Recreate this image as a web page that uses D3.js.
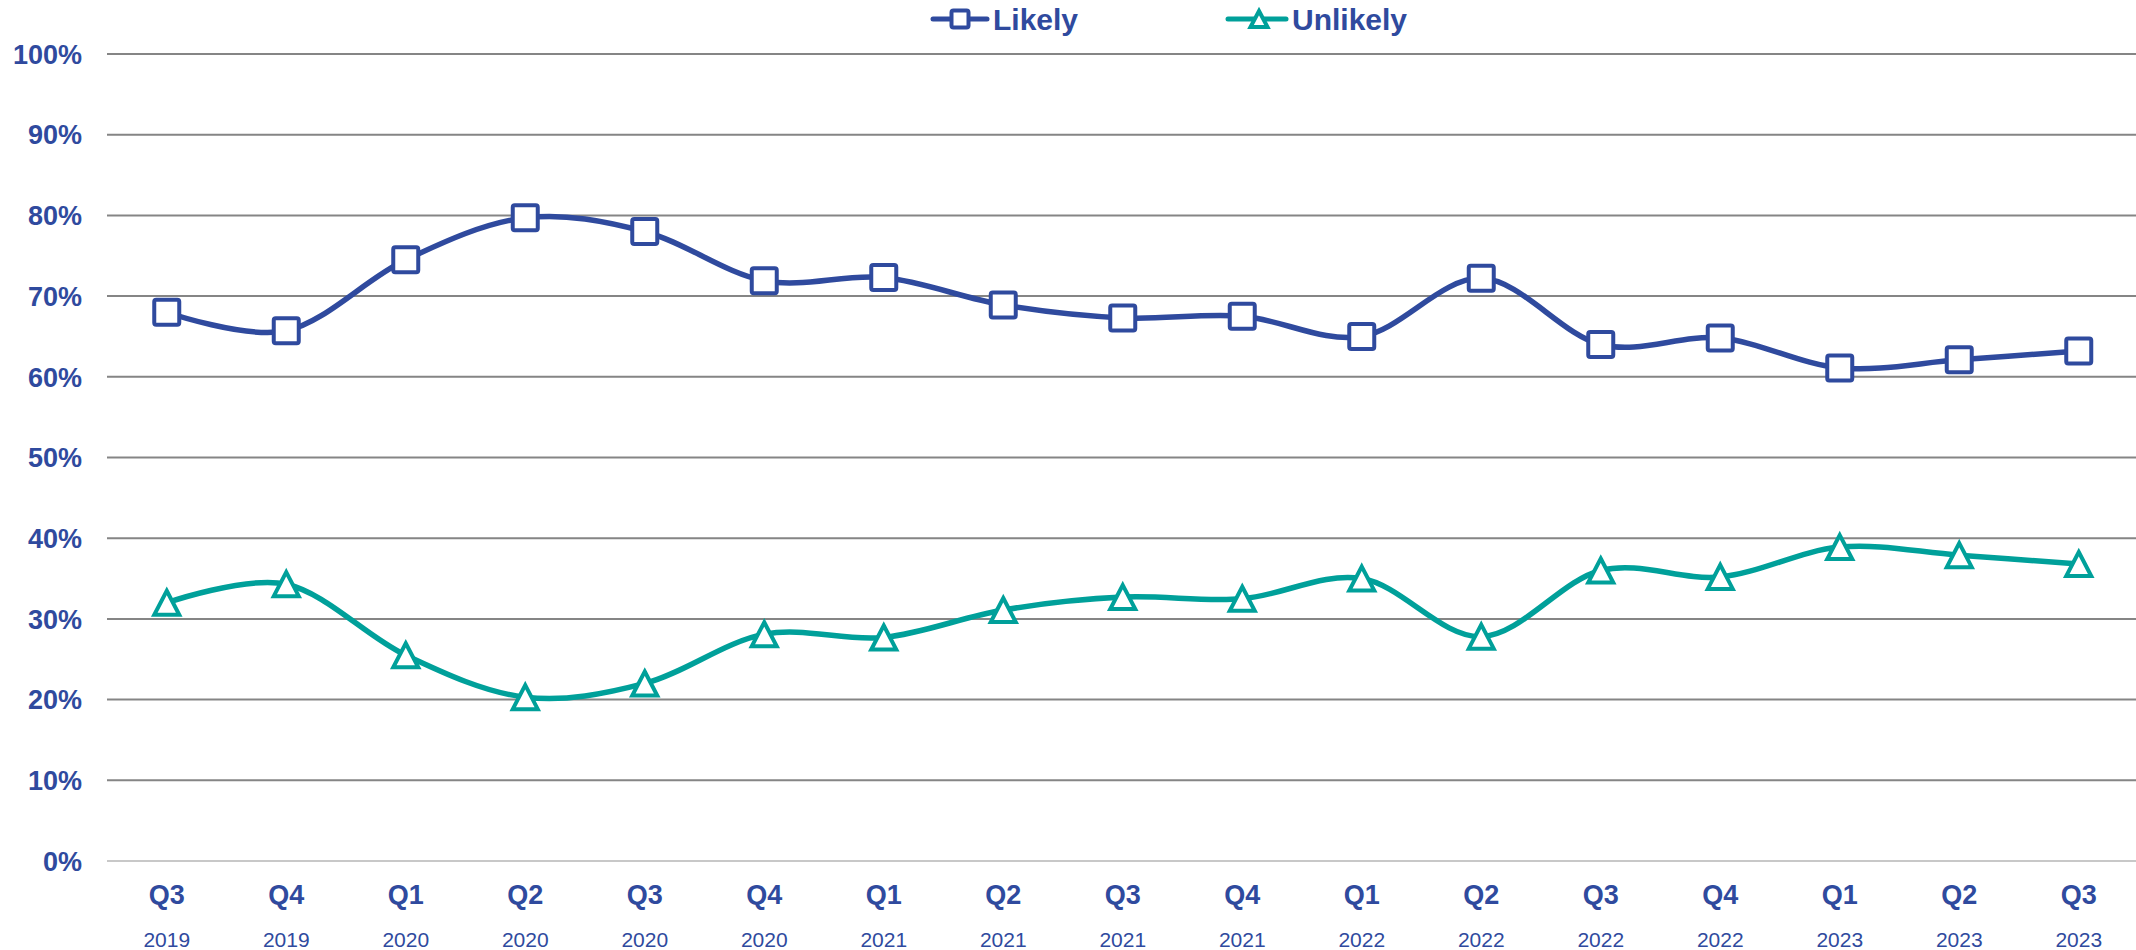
<!DOCTYPE html>
<html>
<head>
<meta charset="utf-8">
<title>Likely vs Unlikely</title>
<script src="https://d3js.org/d3.v7.min.js"></script>
<style>
  body { margin: 0; background: #fff; }
  text { font-family: Arial, "Liberation Sans", sans-serif; }
</style>
</head>
<body>
<div id="chart"></div>
<script>
// quarters and years along the x axis
const quarters = ["Q3","Q4","Q1","Q2","Q3","Q4","Q1","Q2","Q3","Q4","Q1","Q2","Q3","Q4","Q1","Q2","Q3"];
const years = ["2019","2019","2020","2020","2020","2020","2021","2021","2021","2021","2022","2022","2022","2022","2023","2023","2023"];

// shares (percent)
const likely = [68.0, 65.7, 74.5, 79.7, 78.0, 71.9, 72.3, 68.9, 67.3, 67.5, 65.0, 72.2, 64.0, 64.8, 61.1, 62.1, 63.2];
const unlikely = [32.0, 34.3, 25.5, 20.3, 22.0, 28.1, 27.7, 31.1, 32.7, 32.5, 35.0, 27.8, 36.0, 35.2, 38.9, 37.9, 36.8];

const yTicks = [0, 10, 20, 30, 40, 50, 60, 70, 80, 90, 100];

const width = 2136, height = 950;
const margin = {top: 54, right: 0, bottom: 89, left: 107};
const blue = "#2F4A9E", teal = "#00A09A";

const svg = d3.select("#chart").append("svg")
    .attr("width", width)
    .attr("height", height);

const idx = d3.range(quarters.length);

const x = d3.scaleBand()
    .domain(idx)
    .range([margin.left, margin.left + 119.5 * quarters.length])
    .padding(0);

const y = d3.scaleLinear()
    .domain([0, 100])
    .range([height - margin.bottom, margin.top]);

// gridlines
svg.append("g")
    .selectAll("line")
    .data(yTicks)
    .join("line")
    .attr("x1", margin.left)
    .attr("x2", width)
    .attr("y1", d => y(d))
    .attr("y2", d => y(d))
    .attr("stroke", d => d === 0 ? "#c8c8c8" : "#858585")
    .attr("stroke-width", 2);

// y axis labels
svg.append("g")
    .selectAll("text")
    .data(yTicks)
    .join("text")
    .attr("x", 82)
    .attr("y", d => y(d))
    .attr("dy", "0.36em")
    .attr("text-anchor", "end")
    .attr("font-size", 27)
    .attr("font-weight", "bold")
    .attr("fill", blue)
    .text(d => d + "%");

// x axis labels
const xl = svg.append("g");
xl.selectAll("text.q")
    .data(idx)
    .join("text")
    .attr("class", "q")
    .attr("x", d => x(d) + x.bandwidth() / 2)
    .attr("y", 904)
    .attr("text-anchor", "middle")
    .attr("font-size", 27)
    .attr("font-weight", "bold")
    .attr("fill", blue)
    .text(d => quarters[d]);

xl.selectAll("text.yr")
    .data(idx)
    .join("text")
    .attr("class", "yr")
    .attr("x", d => x(d) + x.bandwidth() / 2)
    .attr("y", 947)
    .attr("text-anchor", "middle")
    .attr("font-size", 21)
    .attr("fill", blue)
    .text(d => years[d]);

const line = d3.line()
    .x((d, i) => x(i) + x.bandwidth() / 2)
    .y(d => y(d))
    .curve(d3.curveCatmullRom.alpha(0));

const series = [
    {name: "Likely", values: likely, color: blue, marker: "square"},
    {name: "Unlikely", values: unlikely, color: teal, marker: "triangle"}
];

function drawMarker(g, type, color, size) {
    if (type === "square") {
        g.append("rect")
            .attr("x", -size / 2 + 2)
            .attr("y", -size / 2 + 2)
            .attr("width", size - 4)
            .attr("height", size - 4)
            .attr("rx", 2)
            .attr("fill", "#fff")
            .attr("stroke", color)
            .attr("stroke-width", 4);
    } else {
        const h = size - 5, w = size - 4;
        g.append("path")
            .attr("d", `M0,${-h / 2}L${w / 2},${h / 2}L${-w / 2},${h / 2}Z`)
            .attr("fill", "#fff")
            .attr("stroke", color)
            .attr("stroke-width", 4)
            .attr("stroke-linejoin", "miter");
    }
}

series.forEach(s => {
    svg.append("path")
        .datum(s.values)
        .attr("fill", "none")
        .attr("stroke", s.color)
        .attr("stroke-width", 5.5)
        .attr("d", line);

    svg.append("g")
        .selectAll("g")
        .data(s.values)
        .join("g")
        .attr("transform", (d, i) => `translate(${x(i) + x.bandwidth() / 2},${y(d)})`)
        .each(function() { drawMarker(d3.select(this), s.marker, s.color, 29); });
});

// legend
const legendPos = [{lx: 933, cx: 960, tx: 993}, {lx: 1228, cx: 1259, tx: 1292}];
series.forEach((s, i) => {
    const lg = svg.append("g");
    const p = legendPos[i];
    lg.append("line")
        .attr("x1", p.lx).attr("x2", p.tx - 6)
        .attr("y1", 19).attr("y2", 19)
        .attr("stroke", s.color)
        .attr("stroke-width", 5)
        .attr("stroke-linecap", "round");
    const m = lg.append("g").attr("transform", `translate(${p.cx},19)`);
    drawMarker(m, s.marker, s.color, 21);
    lg.append("text")
        .attr("x", p.tx)
        .attr("y", 30)
        .attr("font-size", 30)
        .attr("font-weight", "bold")
        .attr("fill", blue)
        .text(s.name);
});
</script>
</body>
</html>
